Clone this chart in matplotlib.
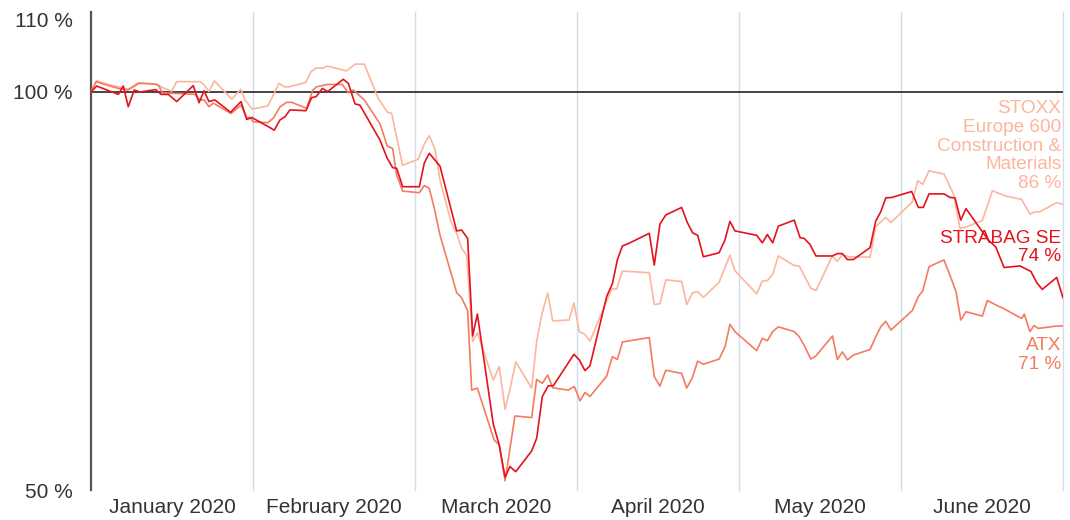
import matplotlib.pyplot as plt

plt.rcParams['font.family'] = ['Liberation Sans', 'DejaVu Sans']

# x = months since 1 Jan 2020 (each month band drawn with equal width), y = % of start value
months = ['January 2020', 'February 2020', 'March 2020', 'April 2020', 'May 2020', 'June 2020']

strabag_t = [0.000, 0.035, 0.169, 0.199, 0.230, 0.267, 0.302, 0.399, 0.432, 0.477, 0.529,
             0.631, 0.667, 0.698, 0.728, 0.765, 0.862, 0.926, 0.961, 0.992, 1.094, 1.131,
             1.167, 1.198, 1.228, 1.327, 1.362, 1.389, 1.428, 1.461, 1.557, 1.588, 1.630,
             1.660, 1.784, 1.829, 1.862, 1.887, 1.924, 2.027, 2.057, 2.088, 2.154, 2.257,
             2.288, 2.325, 2.356, 2.385, 2.483, 2.520, 2.556, 2.586, 2.622, 2.720, 2.751,
             2.786, 2.823, 2.854, 2.981, 3.014, 3.049, 3.080, 3.183, 3.219, 3.249, 3.280,
             3.327, 3.446, 3.477, 3.512, 3.548, 3.646, 3.681, 3.714, 3.745, 3.780, 3.877,
             3.914, 3.944, 3.975, 4.109, 4.144, 4.175, 4.208, 4.243, 4.341, 4.377, 4.403,
             4.438, 4.475, 4.576, 4.607, 4.638, 4.669, 4.706, 4.809, 4.844, 4.875, 4.906,
             4.943, 5.066, 5.107, 5.138, 5.173, 5.265, 5.302, 5.333, 5.369, 5.401, 5.488,
             5.539, 5.586, 5.636, 5.735, 5.802, 5.838, 5.872, 5.961, 6.000]
strabag_v = [100.0, 100.75, 99.7, 100.75, 98.15, 100.25, 100.0, 100.3, 99.7, 99.7, 98.8,
             100.8, 98.65, 100.15, 98.8, 99.0, 97.45, 98.8, 96.55, 96.8, 95.65, 95.2,
             96.5, 96.9, 97.75, 97.65, 99.3, 99.4, 100.45, 100.05, 101.6, 101.1, 98.5,
             98.35, 93.95, 91.65, 90.5, 90.4, 88.1, 88.1, 91.05, 92.3, 90.7, 82.55,
             82.65, 81.6, 69.35, 72.1, 58.3, 55.65, 51.6, 52.95, 52.3, 54.9, 56.5,
             61.75, 63.1, 63.1, 67.05, 66.35, 65.0, 65.6, 74.3, 75.95, 78.9, 80.65,
             81.05, 82.25, 78.25, 83.4, 84.55, 85.5, 83.6, 82.3, 82.0, 79.3, 79.8,
             81.45, 83.75, 82.55, 82.0, 81.05, 82.1, 81.05, 83.15, 83.9, 81.7, 81.6,
             80.85, 79.4, 79.4, 79.7, 79.7, 78.95, 78.95, 80.45, 83.8, 84.95, 86.7,
             86.75, 87.5, 85.5, 85.5, 87.2, 87.2, 86.75, 86.7, 83.9, 85.35, 82.85,
             81.4, 80.5, 77.95, 78.15, 77.45, 76.05, 75.2, 76.7, 74.15]

atx_t = [0.000, 0.031, 0.076, 0.169, 0.227, 0.298, 0.395, 0.420, 0.440, 0.498, 0.642,
         0.673, 0.699, 0.728, 0.755, 0.864, 0.926, 0.961, 0.981, 1.002, 1.091, 1.125,
         1.167, 1.208, 1.239, 1.331, 1.369, 1.393, 1.459, 1.551, 1.588, 1.619, 1.687,
         1.784, 1.829, 1.862, 1.887, 1.924, 2.027, 2.057, 2.088, 2.119, 2.154, 2.257,
         2.288, 2.325, 2.350, 2.385, 2.488, 2.520, 2.556, 2.617, 2.720, 2.751, 2.786,
         2.819, 2.850, 2.946, 2.983, 3.019, 3.049, 3.080, 3.183, 3.218, 3.249, 3.281,
         3.446, 3.477, 3.512, 3.548, 3.646, 3.677, 3.712, 3.745, 3.780, 3.877, 3.914,
         3.944, 3.975, 4.109, 4.144, 4.175, 4.208, 4.243, 4.341, 4.372, 4.407, 4.443,
         4.475, 4.577, 4.607, 4.638, 4.669, 4.706, 4.809, 4.844, 4.875, 4.906, 4.938,
         5.070, 5.107, 5.134, 5.173, 5.265, 5.302, 5.340, 5.369, 5.401, 5.502, 5.533,
         5.586, 5.642, 5.745, 5.761, 5.796, 5.821, 5.847, 5.961, 6.000]
atx_v = [100.0, 101.3, 101.0, 100.45, 100.25, 101.1, 101.0, 100.75, 99.9, 99.85, 99.7,
         99.0, 99.0, 98.15, 98.6, 97.3, 98.35, 96.8, 96.8, 96.25, 96.15, 96.7,
         98.15, 98.7, 98.7, 97.95, 100.25, 100.65, 100.95, 100.95, 99.9, 100.25, 99.0,
         96.0, 93.2, 92.9, 89.55, 87.55, 87.35, 88.25, 87.9, 85.4, 82.05, 74.8,
         74.15, 72.5, 62.55, 62.8, 56.3, 55.65, 51.15, 59.3, 59.1, 63.9, 63.4,
         64.45, 62.85, 62.55, 63.0, 61.2, 62.25, 61.75, 64.3, 66.75, 66.4, 68.6,
         69.15, 64.25, 63.05, 65.05, 64.65, 62.8, 64.1, 66.2, 65.8, 66.45, 68.0,
         70.8, 69.9, 67.5, 69.05, 68.75, 69.9, 70.5, 69.9, 69.25, 68.0, 66.45,
         66.85, 69.35, 66.4, 67.35, 66.35, 66.95, 67.65, 69.25, 70.5, 71.2, 70.1,
         72.55, 74.3, 75.0, 78.05, 78.9, 77.0, 74.9, 71.35, 72.4, 71.85, 73.8,
         73.25, 72.7, 71.55, 72.1, 69.9, 70.65, 70.3, 70.6, 70.6]

stoxx_t = [0.000, 0.035, 0.117, 0.230, 0.292, 0.406, 0.436, 0.498, 0.529, 0.673, 0.698,
           0.728, 0.761, 0.869, 0.924, 0.951, 0.996, 1.091, 1.125, 1.160, 1.193, 1.224,
           1.325, 1.358, 1.389, 1.430, 1.459, 1.578, 1.630, 1.687, 1.773, 1.831, 1.856,
           1.923, 2.020, 2.057, 2.088, 2.123, 2.154, 2.222, 2.257, 2.288, 2.319, 2.356,
           2.385, 2.483, 2.520, 2.556, 2.586, 2.622, 2.720, 2.751, 2.782, 2.819, 2.850,
           2.951, 2.981, 3.014, 3.049, 3.080, 3.214, 3.245, 3.280, 3.446, 3.477, 3.512,
           3.548, 3.646, 3.677, 3.714, 3.745, 3.780, 3.877, 3.944, 3.975, 4.109, 4.144,
           4.175, 4.208, 4.243, 4.341, 4.372, 4.443, 4.475, 4.576, 4.607, 4.638, 4.675,
           4.809, 4.844, 4.906, 4.938, 5.070, 5.103, 5.134, 5.173, 5.265, 5.327, 5.364,
           5.395, 5.502, 5.564, 5.642, 5.745, 5.796, 5.821, 5.856, 5.961, 6.000]
stoxx_v = [100.0, 101.4, 100.9, 100.35, 101.15, 101.0, 100.6, 100.1, 101.3, 101.3, 100.9,
           100.05, 101.4, 99.1, 100.35, 99.0, 97.85, 98.25, 99.6, 101.1, 100.65, 100.65,
           101.2, 102.55, 103.0, 103.0, 103.25, 102.65, 103.5, 103.5, 99.2, 97.45, 97.3,
           90.8, 91.55, 93.45, 94.5, 92.85, 88.95, 83.7, 82.25, 80.35, 79.5, 68.65,
           69.75, 63.8, 65.5, 60.15, 62.65, 66.1, 62.8, 68.65, 72.0, 74.75, 71.25,
           71.35, 73.5, 69.9, 69.55, 68.7, 75.25, 75.25, 77.5, 77.3, 73.3, 73.4,
           76.4, 76.2, 73.3, 74.8, 74.9, 74.2, 76.1, 79.5, 77.55, 74.65, 76.25,
           76.3, 77.1, 79.4, 78.2, 78.15, 75.35, 75.05, 79.4, 78.7, 79.6, 79.3,
           79.25, 83.1, 84.25, 83.6, 86.2, 88.85, 88.4, 90.1, 89.7, 87.05, 82.85,
           83.0, 83.85, 87.6, 86.95, 86.5, 84.65, 84.9, 84.95, 86.1, 85.9]

red = '#e3131e'
salmon = '#f47b60'
light = '#fbb69d'

fig = plt.figure(figsize=(10.7, 5.2), dpi=100)
ax = fig.add_axes([91 / 1070, 30 / 520, 972 / 1070, 477.6 / 520])

for m in range(1, 7):
    ax.axvline(m, color='#cfdeea', lw=1.0, zorder=1, clip_on=False)
ax.axhline(100, color='#111111', lw=1.1, zorder=2)

ax.plot(stoxx_t, stoxx_v, color=light, lw=1.2, zorder=3)
ax.plot(atx_t, atx_v, color=salmon, lw=1.2, zorder=4)
ax.plot(strabag_t, strabag_v, color=red, lw=1.2, zorder=5)

ax.set_xlim(0, 6)
ax.set_ylim(50, 110)

for s in ['top', 'right', 'bottom']:
    ax.spines[s].set_visible(False)
ax.spines['left'].set_color('#555555')
ax.spines['left'].set_linewidth(1.6)

ax.set_xticks([m + 0.5 for m in range(6)])
ax.set_xticklabels(months)
ax.set_yticks([50, 100, 110])
ax.set_yticklabels(['50 %', '100 %', '110 %'])
ax.tick_params(axis='both', length=0, labelsize=15, colors='#333333')
ax.tick_params(axis='y', pad=13)
ax.tick_params(axis='x', pad=6)
ax.get_yticklabels()[2].set_verticalalignment('top')

lab = dict(ha='right', va='center', fontsize=13.7, linespacing=1.13)
ax.text(5.99, 93.2, 'STOXX\nEurope 600\nConstruction &\nMaterials\n86 %', color=light, **lab)
ax.text(5.99, 80.45, 'STRABAG SE\n74 %', color=red, **lab)
ax.text(5.99, 67.0, 'ATX\n71 %', color=salmon, **lab)

fig.savefig('out.png', dpi=100)
